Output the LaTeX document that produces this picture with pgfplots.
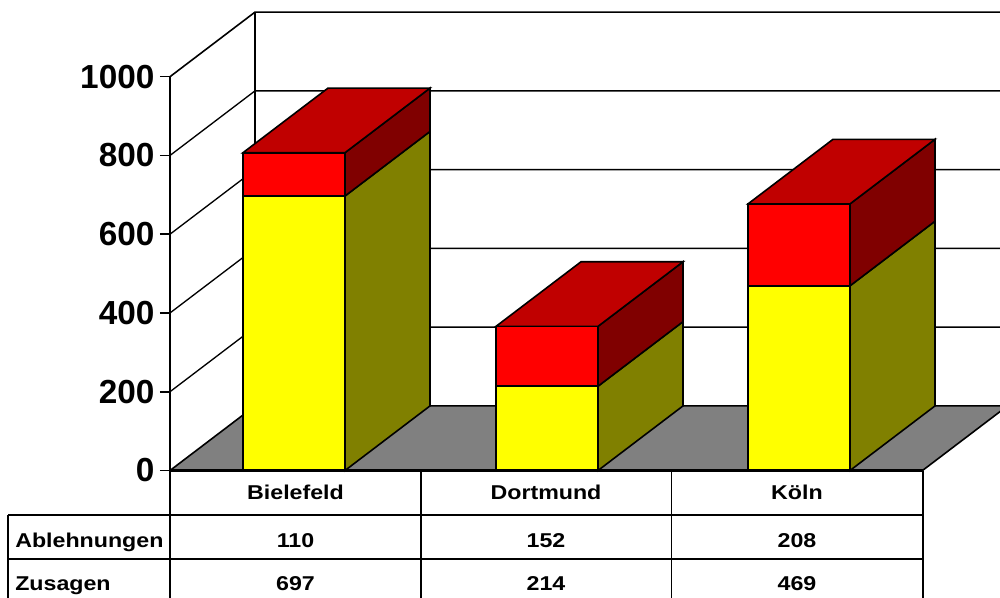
\documentclass[border=0pt]{standalone}
\usepackage{pgfplots}
\usepackage{pgfplotstable}
\pgfplotsset{compat=1.18}
\usepackage{fontspec}
\setmainfont{Liberation Sans}
\newfontfamily\cellfont[FakeStretch=1.16]{Liberation Sans}

\definecolor{zusfront}{RGB}{255,255,0}
\definecolor{zusside}{RGB}{128,128,0}
\definecolor{ablfront}{RGB}{255,0,0}
\definecolor{ablside}{RGB}{128,0,0}
\definecolor{abltop}{RGB}{192,0,0}
\definecolor{floorgray}{RGB}{128,128,128}

% Zusagen and Ablehnungen per city; pos = horizontal centre of the bar
\pgfplotstableread{
city       pos  zus  abl
Bielefeld  294  697  110
Dortmund   547  214  152
Koeln      799  469  208
}\citydata

\def\halfw{51}  % half of the bar width
\def\dx{85}     % depth offset, horizontal
\def\dy{164}    % depth offset, in value units

\begin{document}
\begin{tikzpicture}[x=0.75pt,y=0.75pt]
\useasboundingbox (0,0) rectangle (1000,597);
\coordinate (O) at (170,126.5);
\begin{axis}[
  at={(O)}, anchor=south west,
  scale only axis, width=562.5pt, height=295.35pt,
  xmin=170, xmax=920, ymin=0, ymax=1000,
  axis x line=none, axis y line*=left,
  clip=false,
  ytick={0,200,400,600,800,1000},
  tick align=outside, major tick length=7.5pt,
  tick style={line width=1.2pt, black},
  axis line style={line width=1.2pt},
  /pgf/number format/1000 sep={},
  /pgf/number format/assume math mode=true,
  yticklabel style={font=\fontsize{25}{25}\selectfont\bfseries, inner sep=0pt, xshift=-4pt},
  barface/.style={draw=black, line width=1.2pt, line join=miter, mark=none, forget plot},
]
  % floor
  \fill[floorgray] (axis cs:170,0) -- (axis cs:255,164) -- (axis cs:1007.5,164) -- (axis cs:922.5,0) -- cycle;
  \draw[line width=1.2pt] (axis cs:170,0) -- (axis cs:255,164) -- (axis cs:1010,164);
  \draw[line width=1.2pt] (axis cs:922.5,0) -- (axis cs:1007.5,164);
  % back wall and left wall with grid lines
  \draw[line width=1.2pt] (axis cs:255,164) -- (axis cs:255,1164);
  \draw[line width=1pt] (axis cs:170,200) -- (axis cs:255,364) -- (axis cs:1010,364);
  \draw[line width=1pt] (axis cs:170,400) -- (axis cs:255,564) -- (axis cs:1010,564);
  \draw[line width=1pt] (axis cs:170,600) -- (axis cs:255,764) -- (axis cs:1010,764);
  \draw[line width=1pt] (axis cs:170,800) -- (axis cs:255,964) -- (axis cs:1010,964);
  \draw[line width=1.2pt] (axis cs:170,1000) -- (axis cs:255,1164) -- (axis cs:1010,1164);

  % stacked 3D columns
  \pgfplotsinvokeforeach{0,1,2}{
    \pgfplotstablegetelem{#1}{pos}\of\citydata \let\pos\pgfplotsretval
    \pgfplotstablegetelem{#1}{zus}\of\citydata \let\zus\pgfplotsretval
    \pgfplotstablegetelem{#1}{abl}\of\citydata \let\abl\pgfplotsretval
    \pgfmathsetmacro\xl{\pos-\halfw}
    \pgfmathsetmacro\xr{\pos+\halfw}
    \pgfmathsetmacro\xb{\xr+\dx}
    \pgfmathsetmacro\xbl{\xl+\dx}
    \pgfmathsetmacro\tot{\zus+\abl}
    \pgfmathsetmacro\zusb{\zus+\dy}
    \pgfmathsetmacro\totb{\tot+\dy}
    \addplot[barface, fill=zusside] coordinates {(\xr,0) (\xb,\dy) (\xb,\zusb) (\xr,\zus)} -- cycle;
    \addplot[barface, fill=ablside] coordinates {(\xr,\zus) (\xb,\zusb) (\xb,\totb) (\xr,\tot)} -- cycle;
    \addplot[barface, fill=abltop] coordinates {(\xl,\tot) (\xr,\tot) (\xb,\totb) (\xbl,\totb)} -- cycle;
    \addplot[barface, fill=zusfront] coordinates {(\xl,0) (\xr,0) (\xr,\zus) (\xl,\zus)} -- cycle;
    \addplot[barface, fill=ablfront] coordinates {(\xl,\zus) (\xr,\zus) (\xr,\tot) (\xl,\tot)} -- cycle;
  }
  % front edge of the floor
  \draw[line width=1.6pt] (axis cs:170,0) -- (axis cs:922.5,0);
\end{axis}

% data table
\begin{scope}[line width=1.2pt]
  \draw (170,126.5) -- (170,-5);
  \draw (421,126.5) -- (421,-5);
  \draw (671.5,126.5) -- (671.5,-5);
  \draw (923,126.5) -- (923,-5);
  \draw (8,82) -- (8,-5);
  \draw (8,82) -- (923,82);
  \draw (8,38) -- (923,38);
\end{scope}
\begin{scope}[every node/.style={inner sep=0pt, font=\fontsize{15}{18}\selectfont\cellfont\bfseries}]
  \node[anchor=base] at (295.5,97.7) {Bielefeld};
  \node[anchor=base] at (546,97.7) {Dortmund};
  \node[anchor=base] at (797,97.7) {Köln};
  \node[anchor=base west] at (15,49.7) {Ablehnungen};
  \node[anchor=base] at (295.5,49.7) {110};
  \node[anchor=base] at (546,49.7) {152};
  \node[anchor=base] at (797,49.7) {208};
  \node[anchor=base west] at (15,6.3) {Zusagen};
  \node[anchor=base] at (295.5,6.3) {697};
  \node[anchor=base] at (546,6.3) {214};
  \node[anchor=base] at (797,6.3) {469};
\end{scope}
\end{tikzpicture}
\end{document}
